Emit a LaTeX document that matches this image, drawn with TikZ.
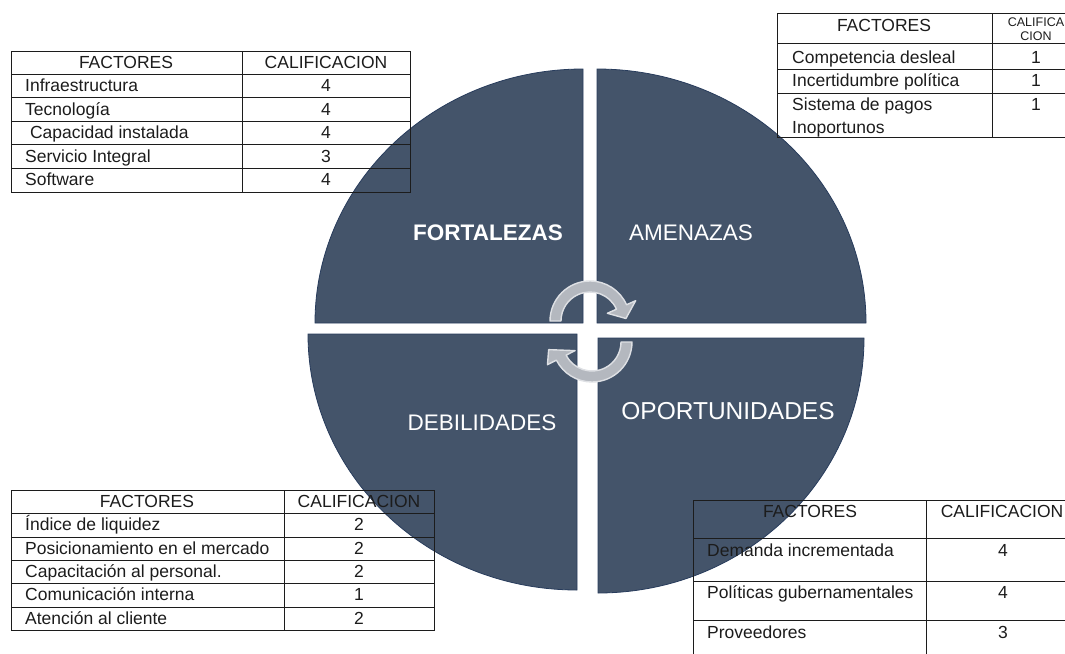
\documentclass[tikz,border=0pt]{standalone}
\usepackage{fontspec}
\setmainfont{Liberation Sans}
\usepackage{tikz}
\definecolor{foda}{RGB}{68,84,106}
\definecolor{fodaborde}{RGB}{40,60,92}
\definecolor{flecha}{RGB}{180,184,191}
\definecolor{flechaborde}{RGB}{222,224,228}
\definecolor{tinta}{RGB}{28,28,28}

\begin{document}
\begin{tikzpicture}[x=1pt,y=-1pt,
  quad/.style={fill=foda,draw=fodaborde,line width=0.8pt},
  gira/.style={fill=flecha,draw=flechaborde,line width=1.4pt,line join=round},
  rotulo/.style={text=white,inner sep=0,font=\fontsize{22.5}{24}\selectfont},
  celda/.style={text=tinta,inner sep=0,text height=12.6pt,text depth=0pt,font=\fontsize{17.5}{17.5}\selectfont},
  rejilla/.style={draw=tinta,line width=1pt}]
  \useasboundingbox (0,0) rectangle (1065,653);
  \clip (0,0) rectangle (1065,653);
  % cuadrantes
  \draw[quad] (583,323) -- (315,323) arc[start angle=180,end angle=270,x radius=268,y radius=254] -- cycle;
  \draw[quad] (597,323) -- (597,69) arc[start angle=270,end angle=360,x radius=269,y radius=254] -- cycle;
  \draw[quad] (577,334) -- (577,590) arc[start angle=90,end angle=180,x radius=269,y radius=256] -- cycle;
  \draw[quad] (598,338) -- (864,338) arc[start angle=0,end angle=90,x radius=266,y radius=255] -- cycle;
  % flechas
  \begin{scope}[shift={(590,321)}]
    \draw[gira] (180:40) arc[start angle=180,end angle=336,radius=40] -- (336:50) -- (356:36)
      -- (336:19) -- (336:29) arc[start angle=336,end angle=180,radius=29] -- cycle;
  \end{scope}
  \begin{scope}[shift={(592,342)}]
    \draw[gira] (0:40) arc[start angle=0,end angle=153,radius=40] -- (153:50) -- (170:44)
      -- (153:19) -- (153:29) arc[start angle=153,end angle=0,radius=29] -- cycle;
  \end{scope}
  \node[rotulo,font=\bfseries\fontsize{22.5}{24}\selectfont] (fort) at (488,233) {FORTALEZAS};
  \node[rotulo] (amen) at (691,233) {AMENAZAS};
  \node[rotulo] (debi) at (482,423) {DEBILIDADES};
  \node[rotulo,font=\fontsize{24.5}{26}\selectfont] (opor) at (728,411) {OPORTUNIDADES};
  % tabla fortalezas
  \draw[rejilla] (11,51) rectangle (410,192) (242,51) -- (242,192);
  \foreach \y in {74,97,121,144,168} \draw[rejilla] (11,\y) -- (410,\y);
  \node[celda] (fhead) at (126,62) {FACTORES};
  \node[celda] (fcal) at (326,62) {CALIFICACION};
  \foreach \t/\v [count=\i] in {Infraestructura/4,Tecnología/4,{\ Capacidad instalada}/4,Servicio Integral/3,Software/4} {
    \node[celda,anchor=west] (f\i) at (25,62+23.5*\i) {\t};
    \node[celda] (fv\i) at (326,62+23.5*\i) {\v};
  }
  % tabla amenazas
  \draw[rejilla] (777,13) rectangle (1080,137) (992,13) -- (992,137);
  \foreach \y in {43,69,93} \draw[rejilla] (777,\y) -- (1080,\y);
  \node[celda] (ahead) at (884,25) {FACTORES};
  \node[text=tinta,inner sep=0,align=center,font=\fontsize{12.5}{14}\selectfont] (acal) at (1036,29) {CALIFICA\\CION};
  \node[celda,anchor=west] (a1) at (792,57) {Competencia desleal};
  \node[celda,anchor=west] (a2) at (792,80) {Incertidumbre política};
  \node[celda,anchor=west] (a3) at (792,104) {Sistema de pagos};
  \node[celda,anchor=west] (a4) at (792,127) {Inoportunos};
  \foreach \y [count=\i] in {57,80,104} \node[celda] (av\i) at (1036,\y) {1};
  % tabla debilidades
  \draw[rejilla] (11,490) rectangle (434,630) (284,490) -- (284,630);
  \foreach \y in {513,537,560,583,607} \draw[rejilla] (11,\y) -- (434,\y);
  \node[celda] (dhead) at (147,501) {FACTORES};
  \node[celda] (dcal) at (359,501) {CALIFICACION};
  \foreach \t/\v [count=\i] in {Índice de liquidez/2,Posicionamiento en el mercado/2,Capacitación al personal./2,Comunicación interna/1,Atención al cliente/2} {
    \node[celda,anchor=west] (d\i) at (25,501+23.4*\i) {\t};
    \node[celda] (dv\i) at (359,501+23.4*\i) {\v};
  }
  % tabla oportunidades
  \draw[rejilla] (693,500) rectangle (1080,665) (926,500) -- (926,665);
  \foreach \y in {538,581,620} \draw[rejilla] (693,\y) -- (1080,\y);
  \node[celda] (ohead) at (810,511) {FACTORES};
  \node[celda] (ocal) at (1002,511) {CALIFICACION};
  \foreach \t/\v/\y [count=\i] in {Demanda incrementada/4/550,Políticas gubernamentales/4/592,Proveedores/3/632} {
    \node[celda,anchor=west] (o\i) at (707,\y) {\t};
    \node[celda] (ov\i) at (1003,\y) {\v};
  }
\end{tikzpicture}
\end{document}
